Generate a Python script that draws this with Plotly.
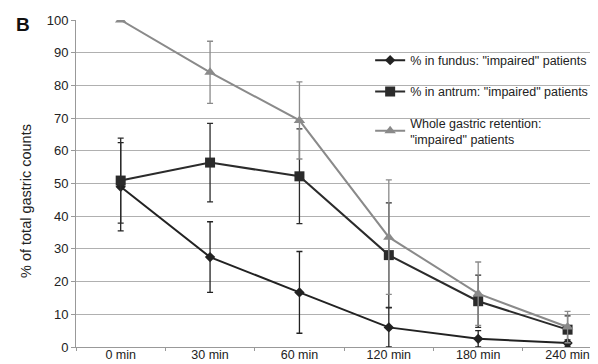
import plotly.graph_objects as go

categories = ["0 min", "30 min", "60 min", "120 min", "180 min", "240 min"]

fundus = [49, 27.5, 16.7, 6.0, 2.5, 1.2]
fundus_err = [13.5, 10.8, 12.5, 6.0, 2.5, 1.0]

antrum = [50.9, 56.4, 52.2, 28.1, 14.0, 5.3]
antrum_err = [13.0, 12.0, 14.5, 16.0, 8.0, 4.2]

whole = [100, 84.0, 69.3, 33.6, 16.3, 6.1]
whole_err = [0, 9.5, 11.8, 17.5, 9.7, 4.8]

names = ['% in fundus: "impaired" patients',
         '% in antrum: "impaired" patients',
         'Whole gastric retention:<br>"impaired" patients']

fig = go.Figure()

series = [
    (fundus, fundus_err, names[0], "#222222", "diamond", 8),
    (antrum, antrum_err, names[1], "#2b2b2b", "square", 10),
    (whole, whole_err, names[2], "#8a8a8a", "triangle-up", 10),
]
for i, (vals, err, name, col, sym, sz) in enumerate(series):
    fig.add_trace(go.Scatter(
        x=categories, y=vals, name=name, mode="lines+markers",
        line=dict(color=col, width=2),
        marker=dict(symbol=sym, size=sz, color=col),
        error_y=dict(type="data", array=err, visible=True, color=col,
                     thickness=1.3, width=3),
        legendgroup=f"g{i}",
    ))

fig.update_layout(
    width=598, height=364,
    margin=dict(l=68, r=0, t=12, b=25),
    paper_bgcolor="white", plot_bgcolor="white",
    font=dict(family="Liberation Sans, Arial, sans-serif", size=13, color="#222"),
    showlegend=True,
    legend=dict(x=0.555, y=0.922, xanchor="left", yanchor="top",
                bgcolor="rgba(0,0,0,0)", font=dict(size=12.5, color="#222"),
                tracegroupgap=12, itemwidth=30),
    xaxis=dict(type="category", range=[-0.5, 5.43], showgrid=False,
               showline=True, linecolor="#999", linewidth=1,
               ticks="outside", tickson="boundaries", ticklen=3, tickcolor="#999",
               ticklabelstandoff=-4,
               tickfont=dict(size=12.5, color="#222")),
    yaxis=dict(range=[0, 100], dtick=10, showgrid=True, gridcolor="#b0b0b0",
               gridwidth=1.2, showline=True, linecolor="#999", linewidth=1,
               ticks="outside", ticklen=4, tickcolor="#999", zeroline=False,
               tickfont=dict(size=13, color="#222")),
)

fig.add_annotation(text="% of total gastric counts", xref="paper", yref="paper",
                   x=-0.0943, y=0.4465, xanchor="center", yanchor="middle",
                   textangle=-90, showarrow=False,
                   font=dict(size=14.5, color="#222"))

fig.add_annotation(text="<b>B</b>", xref="paper", yref="paper", x=-0.1, y=0.985,
                   xanchor="center", yanchor="middle", showarrow=False,
                   font=dict(size=19, color="#111"))

fig.write_html("out.html")
